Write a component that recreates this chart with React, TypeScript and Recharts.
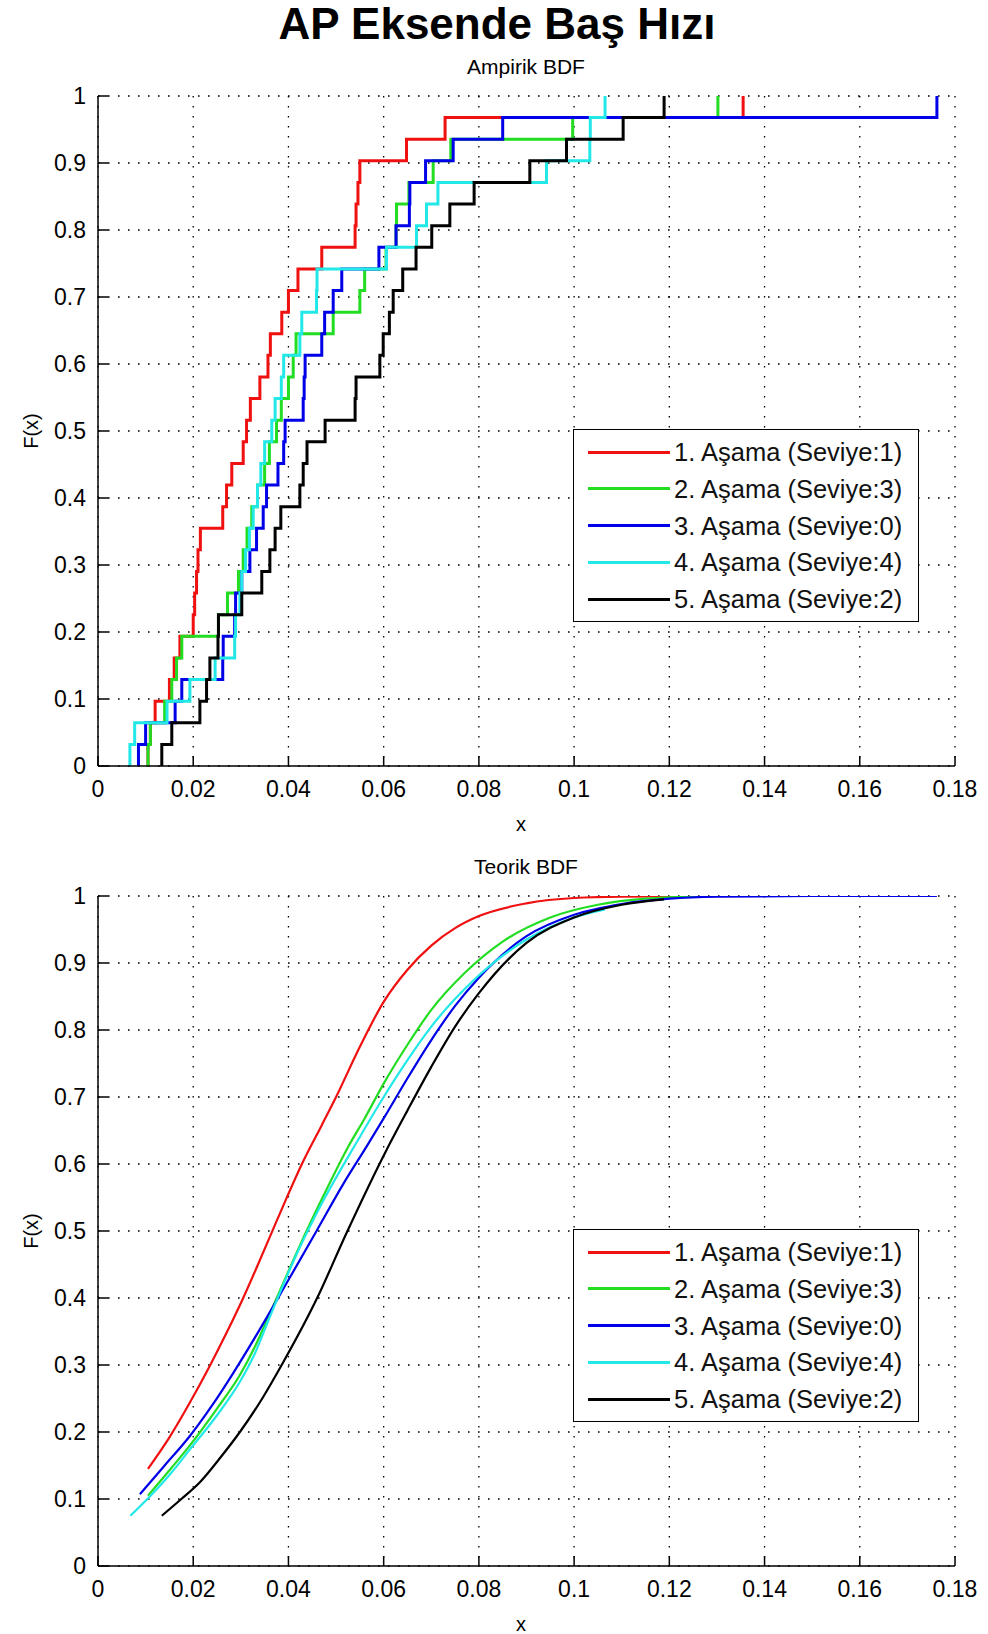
import React from 'react'
import { LineChart, Line, XAxis, YAxis, CartesianGrid } from 'recharts'

const FONT = '"Liberation Sans", Arial, Helvetica, sans-serif'

const seriesNames = [
  '1. Aşama (Seviye:1)',
  '2. Aşama (Seviye:3)',
  '3. Aşama (Seviye:0)',
  '4. Aşama (Seviye:4)',
  '5. Aşama (Seviye:2)',
]
const seriesColors = ['#f01010', '#22dd22', '#0000e8', '#22e8e8', '#000000']

const xTicks = [0, 0.02, 0.04, 0.06, 0.08, 0.1, 0.12, 0.14, 0.16, 0.18]
const yTicks = [0, 0.1, 0.2, 0.3, 0.4, 0.5, 0.6, 0.7, 0.8, 0.9, 1]

const asama1 = [0.0105, 0.011, 0.012, 0.015, 0.016, 0.0172, 0.02, 0.0203, 0.0207, 0.021, 0.0215, 0.0262, 0.027, 0.0281, 0.0305, 0.0312, 0.032, 0.034, 0.0357, 0.0362, 0.0386, 0.04, 0.042, 0.047, 0.054, 0.0542, 0.0546, 0.055, 0.0648, 0.0729, 0.1355]
const asama2 = [0.0105, 0.011, 0.014, 0.0155, 0.0165, 0.0176, 0.0253, 0.0272, 0.0295, 0.0305, 0.0313, 0.0323, 0.0335, 0.035, 0.036, 0.0375, 0.0385, 0.04, 0.041, 0.0416, 0.0494, 0.055, 0.056, 0.0605, 0.0626, 0.0627, 0.0653, 0.0704, 0.0741, 0.0997, 0.1302]
const asama3 = [0.0085, 0.01, 0.0162, 0.0176, 0.0262, 0.0263, 0.0287, 0.0289, 0.0302, 0.0319, 0.0333, 0.0347, 0.0354, 0.0378, 0.039, 0.0393, 0.0431, 0.0433, 0.0435, 0.047, 0.0476, 0.0494, 0.0512, 0.059, 0.0626, 0.0654, 0.0655, 0.0688, 0.0746, 0.085, 0.1762]
const asama4 = [0.0067, 0.0077, 0.0145, 0.0193, 0.0246, 0.0287, 0.0289, 0.0298, 0.0302, 0.031, 0.0318, 0.0326, 0.0335, 0.0342, 0.035, 0.0365, 0.0372, 0.0385, 0.039, 0.0424, 0.0428, 0.0459, 0.046, 0.0606, 0.0669, 0.069, 0.0714, 0.0942, 0.1033, 0.1034, 0.1065]
const asama5 = [0.0134, 0.0155, 0.0214, 0.0228, 0.0235, 0.0252, 0.0253, 0.0302, 0.0344, 0.0361, 0.0372, 0.0384, 0.0424, 0.0431, 0.0439, 0.0477, 0.054, 0.0542, 0.0592, 0.0599, 0.0612, 0.062, 0.064, 0.0668, 0.0701, 0.0739, 0.079, 0.0907, 0.0984, 0.1103, 0.1189]

// theoretical CDF curves
const teorik1X = [0.0105, 0.015, 0.0193, 0.0235, 0.027, 0.0305, 0.0336, 0.0365, 0.0396, 0.0431, 0.047, 0.05, 0.055, 0.06, 0.065, 0.07, 0.075, 0.08, 0.09, 0.1, 0.11, 0.1355]
const teorik1F = [0.145, 0.192, 0.244, 0.299, 0.348, 0.4, 0.45, 0.498, 0.549, 0.604, 0.658, 0.7, 0.775, 0.842, 0.89, 0.926, 0.952, 0.97, 0.989, 0.997, 0.999, 1]
const teorik2X = [0.0105, 0.0155, 0.0193, 0.025, 0.0298, 0.033, 0.036, 0.04, 0.0438, 0.048, 0.0525, 0.056, 0.06, 0.065, 0.07, 0.077, 0.085, 0.095, 0.105, 0.115, 0.1302]
const teorik2F = [0.105, 0.147, 0.18, 0.235, 0.285, 0.328, 0.375, 0.44, 0.5, 0.562, 0.625, 0.668, 0.72, 0.778, 0.83, 0.885, 0.932, 0.968, 0.987, 0.996, 1]
const teorik3X = [0.0088, 0.014, 0.0193, 0.024, 0.0284, 0.0333, 0.0396, 0.0459, 0.0515, 0.0564, 0.06, 0.065, 0.07, 0.075, 0.08, 0.09, 0.1, 0.11, 0.12, 0.13, 0.15, 0.1762]
const teorik3F = [0.107, 0.15, 0.194, 0.24, 0.288, 0.345, 0.422, 0.5, 0.57, 0.626, 0.668, 0.728, 0.785, 0.836, 0.878, 0.94, 0.972, 0.988, 0.996, 0.999, 1, 1]
const teorik4X = [0.0068, 0.012, 0.0155, 0.0193, 0.025, 0.0298, 0.033, 0.0361, 0.0417, 0.0473, 0.0543, 0.06, 0.065, 0.07, 0.079, 0.09, 0.1, 0.1065]
const teorik4F = [0.075, 0.112, 0.14, 0.174, 0.225, 0.275, 0.318, 0.372, 0.465, 0.545, 0.632, 0.7, 0.755, 0.805, 0.875, 0.935, 0.968, 0.98]
const teorik5X = [0.0134, 0.0175, 0.0214, 0.0255, 0.0298, 0.0345, 0.0389, 0.0459, 0.0522, 0.0606, 0.065, 0.07, 0.075, 0.08, 0.09, 0.1, 0.11, 0.1189]
const teorik5F = [0.075, 0.1, 0.125, 0.16, 0.2, 0.25, 0.304, 0.398, 0.497, 0.621, 0.68, 0.745, 0.805, 0.855, 0.93, 0.968, 0.987, 0.995]

type Pt = { x: number; y: number }

// empirical cdf: start at (x1, 0) then one step of 1/n per sample
const ecdf = (s: number[]): Pt[] => [
  { x: s[0], y: 0 },
  ...s.map((v, i) => ({ x: v, y: (i + 1) / s.length })),
]
const pairs = (xs: number[], fs: number[]): Pt[] => xs.map((x, i) => ({ x, y: fs[i] }))

const empirik = [asama1, asama2, asama3, asama4, asama5].map(ecdf)
const teorik = [
  pairs(teorik1X, teorik1F),
  pairs(teorik2X, teorik2F),
  pairs(teorik3X, teorik3F),
  pairs(teorik4X, teorik4F),
  pairs(teorik5X, teorik5F),
]

const XTick = (props: any) => {
  const { x, y, payload } = props
  return (
    <g>
      <line x1={x} x2={x} y1={y} y2={y - 10} stroke="#000" strokeWidth={1.5} />
      <text x={x} y={y + 31} textAnchor="middle" fontSize={23} fontFamily={FONT} fill="#000">
        {String(payload.value)}
      </text>
    </g>
  )
}

const YTick = (props: any) => {
  const { x, y, payload } = props
  return (
    <g>
      <line x1={x} x2={x + 10} y1={y} y2={y} stroke="#000" strokeWidth={1.5} />
      <text x={x - 12} y={y + 8} textAnchor="end" fontSize={23} fontFamily={FONT} fill="#000">
        {String(payload.value)}
      </text>
    </g>
  )
}

function Legend({ top }: { top: number }) {
  return (
    <div
      style={{
        position: 'absolute', left: 573, top, width: 346, height: 193, boxSizing: 'border-box',
        border: '1.5px solid #000', background: '#fff', fontFamily: FONT,
      }}
    >
      {seriesNames.map((n, i) => (
        <div key={n} style={{ position: 'absolute', left: 0, top: 22 + i * 36.8 - 15, height: 30, width: 342 }}>
          <span style={{ position: 'absolute', left: 14, top: 13.5, width: 82, height: 3, background: seriesColors[i] }} />
          <span style={{ position: 'absolute', left: 100, top: 0, fontSize: 25.5, lineHeight: '30px', color: '#111', whiteSpace: 'nowrap' }}>
            {n}
          </span>
        </div>
      ))}
    </div>
  )
}

function Panel({ top, height, subtitle, data, step }: { top: number; height: number; subtitle: string; data: Pt[][]; step: boolean }) {
  return (
    <div style={{ position: 'absolute', left: 0, top, width: 988, height }}>
      <div style={{ position: 'absolute', left: 326, width: 400, top: 56, textAlign: 'center', fontFamily: FONT, fontSize: 21, lineHeight: '21px' }}>
        {subtitle}
      </div>
      <LineChart width={988} height={height} margin={{ top: 96, right: 33, left: 38, bottom: height - 800 }}>
        <CartesianGrid stroke="#000" strokeDasharray="1.6 8.4" strokeWidth={1.3} />
        <XAxis
          dataKey="x"
          type="number"
          domain={[0, 0.18]}
          ticks={xTicks}
          interval={0}
          allowDataOverflow
          height={34}
          tickSize={0}
          tickMargin={0}
          tickLine={false}
          tick={<XTick />}
          axisLine={{ stroke: '#000', strokeWidth: 1.5 }}
        />
        <YAxis
          type="number"
          domain={[0, 1]}
          ticks={yTicks}
          interval={0}
          allowDataOverflow
          width={60}
          tickSize={0}
          tickMargin={0}
          tickLine={false}
          tick={<YTick />}
          axisLine={{ stroke: '#000', strokeWidth: 1.5 }}
        />
        {data.map((d, i) => (
          <Line
            key={seriesNames[i]}
            name={seriesNames[i]}
            data={d}
            dataKey="y"
            type={step ? 'stepAfter' : 'monotone'}
            stroke={seriesColors[i]}
            strokeWidth={step ? 3 : 2.2}
            dot={false}
            activeDot={false}
            isAnimationActive={false}
          />
        ))}
      </LineChart>
      <div style={{ position: 'absolute', left: 31, top: 431, transform: 'translate(-50%, -50%) rotate(-90deg)', fontFamily: FONT, fontSize: 20, whiteSpace: 'nowrap' }}>
        F(x)
      </div>
      <div style={{ position: 'absolute', left: 471, width: 100, top: 814, textAlign: 'center', fontFamily: FONT, fontSize: 20, lineHeight: '20px' }}>
        x
      </div>
      <Legend top={429} />
    </div>
  )
}

export default function App() {
  return (
    <div style={{ position: 'absolute', left: 0, top: 0, width: 988, height: 1634, overflow: 'hidden', background: '#fff' }}>
      <div style={{ position: 'absolute', left: 0, width: 994, top: 2, textAlign: 'center', fontFamily: FONT, fontWeight: 'bold', fontSize: 44, lineHeight: '44px' }}>
        AP Eksende Baş Hızı
      </div>
      <Panel top={0} height={830} subtitle="Ampirik BDF" data={empirik} step />
      <Panel top={800} height={834} subtitle="Teorik BDF" data={teorik} step={false} />
    </div>
  )
}
